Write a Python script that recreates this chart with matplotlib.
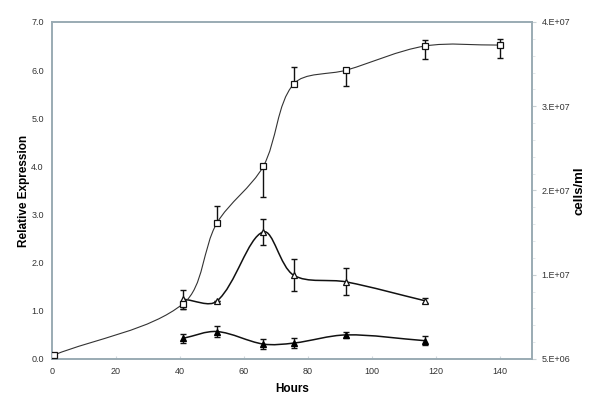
import numpy as np
import matplotlib
matplotlib.use("Agg")
import matplotlib.pyplot as plt
from matplotlib.path import Path
from matplotlib.patches import PathPatch
from matplotlib.ticker import FixedLocator, AutoMinorLocator, FuncFormatter

plt.rcParams["font.family"] = ["Liberation Sans", "DejaVu Sans"]

# open squares: cell density (right axis, cells/ml)
cells_h = [0.5, 41, 51.5, 66, 75.5, 92, 116.5, 140]
cells = [5.4e6, 1.075e7, 1.91e7, 2.5e7, 3.355e7, 3.5e7, 3.75e7, 3.76e7]
cells_lo = [0, 6.0e5, 0, 3.2e6, 0, 1.7e6, 1.35e6, 1.35e6]
cells_hi = [0, 0, 1.75e6, 0, 1.8e6, 0, 6.5e5, 6.5e5]

# open triangles: relative expression
open_h = [41, 51.5, 66, 75.5, 92, 116.5]
open_y = [1.24, 1.20, 2.64, 1.74, 1.60, 1.21]
open_err = [0.20, 0.0, 0.27, 0.33, 0.28, 0.05]

# filled triangles: relative expression
fill_h = [41, 51.5, 66, 75.5, 92, 116.5]
fill_y = [0.43, 0.57, 0.31, 0.33, 0.50, 0.38]
fill_err = [0.09, 0.12, 0.10, 0.11, 0.06, 0.10]


def smooth_path(x, y, sx, sy):
    # smoothed line, bezier control points scaled by neighbouring chord lengths
    # (lengths measured on screen: sx, sy = pixels per data unit)
    p = np.column_stack([x, y]).astype(float)
    q = p * [sx, sy]
    n = len(p)
    d = np.hypot(*np.diff(q, axis=0).T)
    verts = [p[0]]
    codes = [Path.MOVETO]
    for i in range(n - 1):
        if i > 0:
            t1 = (p[i + 1] - p[i - 1]) * d[i] / (d[i - 1] + d[i]) / 3.0
        else:
            t1 = (p[i + 1] - p[i]) / 3.0
        if i + 2 < n:
            t2 = (p[i + 2] - p[i]) * d[i] / (d[i] + d[i + 1]) / 3.0
        else:
            t2 = (p[i + 1] - p[i]) / 3.0
        verts += [p[i] + t1, p[i + 1] - t2, p[i + 1]]
        codes += [Path.CURVE4] * 3
    return Path(verts, codes)


fig = plt.figure(figsize=(6.0, 4.07), dpi=100)
ax = fig.add_axes([0.0867, 0.118, 0.8, 0.828])
ax2 = ax.twinx()

frame = "#9aabb3"
tick_col = "#333333"
sx = 480 / 150.0
sy_left = 338 / 7.0
sy_right = 338 / 3.5e7

# expression series
ax.add_patch(PathPatch(smooth_path(open_h, open_y, sx, sy_left), fill=False, lw=1.1,
                       ec="#111111", zorder=2))
ax.add_patch(PathPatch(smooth_path(fill_h, fill_y, sx, sy_left), fill=False, lw=1.1,
                       ec="#111111", zorder=2))
ax.errorbar(open_h, open_y, yerr=open_err, fmt="none", ecolor="#111111", elinewidth=1.0,
            capsize=2.2, capthick=1.0, zorder=3)
ax.errorbar(fill_h, fill_y, yerr=fill_err, fmt="none", ecolor="#111111", elinewidth=1.0,
            capsize=2.2, capthick=1.0, zorder=3)
ax.plot(open_h, open_y, ls="none", marker="^", ms=5, mfc="white", mec="#111111", mew=0.9, zorder=4)
ax.plot(fill_h, fill_y, ls="none", marker="^", ms=5, mfc="black", mec="black", mew=0.9, zorder=4)

# cell density series
ax2.add_patch(PathPatch(smooth_path(cells_h, cells, sx, sy_right), fill=False, lw=0.8,
                        ec="#333333", zorder=2))
ax2.errorbar(cells_h, cells, yerr=[cells_lo, cells_hi], fmt="none", ecolor="#111111",
             elinewidth=1.0, capsize=2.2, capthick=1.0, zorder=3)
ax2.plot(cells_h, cells, ls="none", marker="s", ms=5, mfc="white", mec="#111111", mew=0.9, zorder=4)

ax.set_xlim(0, 150)
ax.set_ylim(0, 7)
ax2.set_ylim(5e6, 4e7)

ax.set_xticks(np.arange(0, 141, 20))
ax.set_yticks(np.arange(0, 7.01, 1))
ax.yaxis.set_major_formatter(FuncFormatter(lambda v, _: f"{v:.1f}"))

ax2.yaxis.set_major_locator(FixedLocator(np.linspace(5e6, 4e7, 5)))
ax2.yaxis.set_minor_locator(AutoMinorLocator(5))


def excel_sci(v, _):
    m, e = f"{v:.0E}".split("E")
    return f"{m}.E{e}"


ax2.yaxis.set_major_formatter(FuncFormatter(excel_sci))

for a in (ax, ax2):
    for s in a.spines.values():
        s.set_color(frame)
        s.set_linewidth(1.2)

ax.tick_params(axis="y", length=0, pad=6, labelsize=6.5, labelcolor=tick_col)
ax.tick_params(axis="x", direction="in", length=2.5, color="#d0d8dc", pad=6,
               labelsize=6.5, labelcolor=tick_col)
ax2.tick_params(axis="y", which="major", length=3, color="#c8d0d4", pad=4,
                labelsize=6.5, labelcolor=tick_col)
ax2.tick_params(axis="y", which="minor", length=2, color="#dde3e6")

ax.set_xlabel("Hours", fontsize=8.5, fontweight="bold", labelpad=5)
ax.set_ylabel("Relative Expression", fontsize=8.5, fontweight="bold", labelpad=1)
ax2.set_ylabel("cells/ml", fontsize=9.5, fontweight="bold", labelpad=2)

fig.savefig("out.png", dpi=100)
